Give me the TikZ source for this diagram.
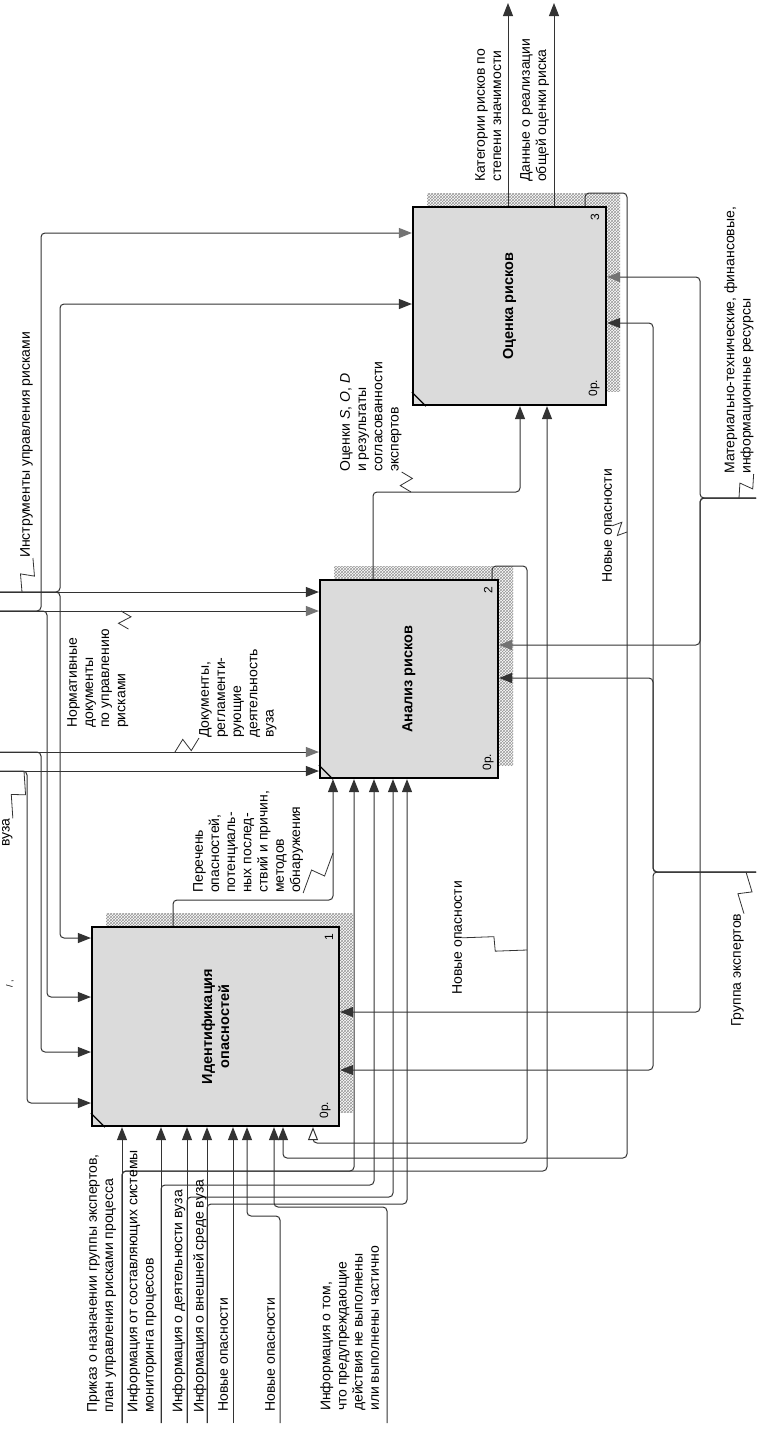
\documentclass[tikz,border=0pt]{standalone}
\usepackage{fontspec}
\setmainfont{Liberation Sans}
\usetikzlibrary{arrows.meta, patterns, calc}

\begin{document}
\begin{tikzpicture}[
    x=1pt, y=-1pt,
    font=\fontsize{14}{16.2}\selectfont,
    flow/.style={draw=black!80, line width=1pt, rounded corners=4pt},
    arr/.style={flow, -{Triangle[length=13pt, width=10pt]}},
    garr/.style={flow, -{Triangle[length=13pt, width=10pt, color=black!55]}},
    oarr/.style={flow, -{Triangle[open, length=13pt, width=10pt, fill=white]}},
    fnbox/.style={draw, line width=2.2pt, fill=black!14, inner sep=0pt},
    hatch/.style={pattern=crosshatch, pattern color=black!40},
    boxtitle/.style={rotate=90, font=\fontsize{14.5}{17}\selectfont\bfseries, align=center},
    boxnum/.style={rotate=90, font=\fontsize{12}{14}\selectfont, inner sep=0pt},
    lbl/.style={rotate=90, anchor=north west, inner sep=0pt, align=left},
    zig/.style={draw=black!80, line width=0.8pt, to path={
        -- ($(\tikztostart)!0.47!(\tikztotarget)!7pt!90:(\tikztotarget)$)
        -- ($(\tikztostart)!0.53!(\tikztotarget)!7pt!-90:(\tikztotarget)$)
        -- (\tikztotarget)}}
  ]
  \useasboundingbox[fill=white] (0,0) rectangle (756,1430);

  % shadows
  \fill[hatch] (106,913) rectangle (353,1112);
  \fill[hatch] (334,566) rectangle (513,765);
  \fill[hatch] (427,193) rectangle (620,391);

  % function boxes
  \node[fnbox, minimum width=247pt, minimum height=199pt] (b1) at (215.5,1026.5) {};
  \node[fnbox, minimum width=178pt, minimum height=198pt] (b2) at (409,679) {};
  \node[fnbox, minimum width=193pt, minimum height=198pt] (b3) at (509.5,306) {};

  \node[boxtitle] (t1) at (b1) {Идентификация\\опасностей};
  \node[boxtitle] (t2) at (b2) {Анализ рисков};
  \node[boxtitle] (t3) at (b3) {Оценка рисков};

  \foreach \b in {b1,b2,b3}
    \draw[line width=1.2pt] ($(\b.south west)+(0,-14)$) -- ($(\b.south west)+(14,0)$);

  \node[boxnum] (n1) at ($(b1.north east)+(-11,11)$) {1};
  \node[boxnum] (n2) at ($(b2.north east)+(-11,11)$) {2};
  \node[boxnum] (n3) at ($(b3.north east)+(-12,11)$) {3};
  \node[boxnum] (p1) at ($(b1.south east)+(-15,-17)$) {0р.};
  \node[boxnum] (p2) at ($(b2.south east)+(-11,-17)$) {0р.};
  \node[boxnum] (p3) at ($(b3.south east)+(-13,-18)$) {0р.};

  % free ends
  \coordinate (inA) at (122,1423);
  \coordinate (inB) at (161,1423);
  \coordinate (inC) at (187,1423);
  \coordinate (inD) at (207,1423);
  \coordinate (inE) at (233,1423);
  \coordinate (inF) at (280,1423);
  \coordinate (inG) at (387,1423);
  \coordinate (cA) at (0,592);
  \coordinate (cB) at (0,611);
  \coordinate (cC) at (0,752);
  \coordinate (cD) at (0,771);
  \coordinate (mA) at (756,498);
  \coordinate (mB) at (756,872);
  \coordinate (oA) at (508,3);
  \coordinate (oB) at (554,3);

  % inputs (from below)
  \draw[arr] (inA) -- (inA |- b1.south);
  \draw[arr] (inA) |- (354,1171) -- (354,0 |- b2.south);
  \draw[arr] (inA) |- (547,1171) -- (547,0 |- b3.south);
  \draw[arr] (inB) -- (inB |- b1.south);
  \draw[arr] (inB) |- (374,1185) -- (374,0 |- b2.south);
  \draw[arr] (inC) -- (inC |- b1.south);
  \draw[arr] (inC) |- (393,1197) -- (393,0 |- b2.south);
  \draw[arr] (inD) -- (inD |- b1.south);
  \draw[arr] (inD) |- (407,1204) -- (407,0 |- b2.south);
  \draw[arr] (inE) -- (inE |- b1.south);
  \draw[arr] (inF) |- (247,1216) -- (247,0 |- b1.south);
  \draw[arr] (inG) |- (274,1207) -- (274,0 |- b1.south);

  % feedback
  \draw[oarr] (b2.north -| 492,0) -- (492,566) -- (527,566) |- (313,1143) -- (313,0 |- b1.south);
  \draw[arr] (b3.north -| 585,0) -- (585,193) -- (627,193) |- (283,1158) -- (283,0 |- b1.south);

  % outputs
  \draw[arr] (b1.north -| 173,0) -- (173,900) -| (b2.south -| 333,0);
  \draw[arr] (b2.north -| 373,0) -- (373,492) -| (b3.south -| 520,0);
  \draw[arr] (b3.north -| oA) -- (oA);
  \draw[arr] (b3.north -| oB) -- (oB);

  % controls (from the left)
  \draw[arr] (cA) -- (cA -| b2.west);
  \draw[arr] (cA) -| (60,304) -- (b3.west |- 0,304);
  \draw[arr] (cA) -| (60,938) -- (b1.west |- 0,938);
  \draw[garr] (cB) -- (cB -| b2.west);
  \draw[garr] (cB) -| (41,233) -- (b3.west |- 0,233);
  \draw[arr] (cB) -| (47,997) -- (b1.west |- 0,997);
  \draw[garr] (cC) -- (cC -| b2.west);
  \draw[arr] (cC) -| (41,1052) -- (b1.west |- 0,1052);
  \draw[arr] (cD) -- (cD -| b2.west);
  \draw[arr] (cD) -| (27,1103) -- (b1.west |- 0,1103);

  % mechanisms (from the right)
  \draw[garr] (mA) -| (700,277) -- (b3.east |- 0,277);
  \draw[garr] (mA) -| (700,645) -- (b2.east |- 0,645);
  \draw[arr] (mA) -| (700,1012) -- (b1.east |- 0,1012);
  \draw[arr] (mB) -| (653,323) -- (b3.east |- 0,323);
  \draw[arr] (mB) -| (653,678) -- (b2.east |- 0,678);
  \draw[arr] (mB) -| (653,1070) -- (b1.east |- 0,1070);

  % labels
  \node[lbl] (lPrikaz) at (87,1413) {Приказ о назначении группы экспертов,\\план управления рисками процесса};
  \node[lbl] (lMonit) at (127,1413) {Информация от составляющих системы\\мониторинга процессов};
  \node[lbl] (lDeyat) at (172,1413) {Информация о деятельности вуза};
  \node[lbl] (lSreda) at (193,1413) {Информация о внешней среде вуза};
  \node[lbl] (lNew1) at (218,1412) {Новые опасности};
  \node[lbl] (lNew2) at (265,1412) {Новые опасности};
  \node[lbl] (lNevyp) at (320,1411) {Информация о том,\\что предупреждающие\\действия не выполнены\\или выполнены частично};
  \node[lbl] (lInstr) at (20,558) {Инструменты управления рисками};
  \node[lbl] (lNorm) at (67,728) {Нормативные\\документы\\по управлению\\рисками};
  \node[lbl] (lDoc) at (199,738) {Документы,\\регламенти-\\рующие\\деятельность\\вуза};
  \node[lbl] (lVuza) at (2,847) {вуза};
  \node[lbl, font=\fontsize{9}{10}\selectfont] (lCut) at (6,988) {/ ,};
  \node[lbl] (lPerech) at (193,893) {Перечень\\опасностей,\\потенциаль-\\ных послед-\\ствий и причин,\\методов\\обнаружения};
  \node[lbl] (lOcen) at (340,472) {Оценки \textit{S}, \textit{O}, \textit{D}\\и результаты\\согласованности\\экспертов};
  \node[lbl] (lKat) at (475,182) {Категории рисков по\\степени значимости};
  \node[lbl] (lDann) at (520,182) {Данные о реализации\\общей оценки риска};
  \node[lbl] (lNew3) at (452,995) {Новые опасности};
  \node[lbl] (lNew4) at (602,583) {Новые опасности};
  \node[lbl] (lMat) at (724,474) {Материально-технические, финансовые,\\информационные ресурсы};
  \node[lbl] (lGrup) at (731,1027) {Группа экспертов};

  % squiggles
  \coordinate (zInstr) at (22,592);
  \coordinate (zNorm) at (121,611);
  \coordinate (zDoc) at (175,752);
  \coordinate (zVuza) at (24,771);
  \coordinate (zPerech) at (333,853);
  \coordinate (zOcen) at (411,492);
  \coordinate (zNew3) at (527,950);
  \coordinate (zNew4) at (627,532);
  \coordinate (zMat) at (739,498);
  \coordinate (zGrup) at (746,872);
  \draw[zig] (lInstr.south west) to (zInstr);
  \draw[zig] (lNorm.south east) to (zNorm);
  \draw[zig] (lDoc.north west) to (zDoc);
  \draw[zig] (lVuza.south east) to (zVuza);
  \draw[zig] (lPerech.south west) to (zPerech);
  \draw[zig] (lOcen.south west) to (zOcen);
  \draw[zig] (lNew3.south) to (zNew3);
  \draw[zig] (lNew4.south) to (zNew4);
  \draw[zig] (lMat.south west) to (zMat);
  \draw[zig] (lGrup.south east) to (zGrup);

\end{tikzpicture}
\end{document}
